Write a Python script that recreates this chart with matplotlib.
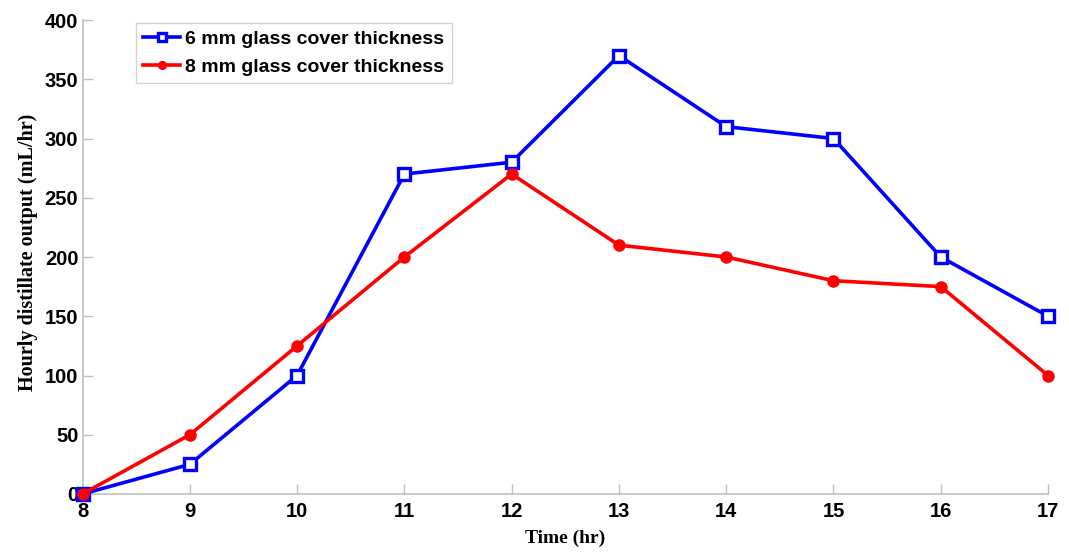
import matplotlib
matplotlib.use("Agg")
import matplotlib.pyplot as plt

time_hr = [8, 9, 10, 11, 12, 13, 14, 15, 16, 17]
glass_6mm = [0, 25, 100, 270, 280, 370, 310, 300, 200, 150]
glass_8mm = [0, 50, 125, 200, 270, 210, 200, 180, 175, 100]
label_6mm = "6 mm glass cover thickness"
label_8mm = "8 mm glass cover thickness"
xticks = list(range(8, 18))
yticks = list(range(0, 401, 50))

fig = plt.figure(figsize=(10.69, 5.53), dpi=100)
ax = fig.add_axes([0.0772, 0.1067, 0.9032, 0.8571])

ax.plot(time_hr, glass_6mm, color="#0000ff", lw=2.6, marker="s", ms=8.5,
        mfc="white", mec="#0000ff", mew=2.4, label=label_6mm, zorder=3, clip_on=False)
ax.plot(time_hr, glass_8mm, color="#ff0000", lw=2.6, marker="o", ms=8,
        mfc="#ff0000", mec="#ff0000", label=label_8mm, zorder=4, clip_on=False)

ax.set_xlim(8, 17)
ax.set_ylim(0, 400)
ax.set_xticks(xticks)
ax.set_yticks(yticks)
for s in ["top", "right"]:
    ax.spines[s].set_visible(False)
for s in ["left", "bottom"]:
    ax.spines[s].set_color("#c0c0c0")
    ax.spines[s].set_linewidth(1.2)
ax.tick_params(direction="in", length=7, width=1, color="#c0c0c0",
               labelsize=14.5)
ax.tick_params(axis="y", pad=3)
ax.tick_params(axis="x", pad=6)
for lab in ax.get_xticklabels() + ax.get_yticklabels():
    lab.set_fontfamily("Liberation Sans")
    lab.set_fontweight("bold")

ax.set_xlabel("Time (hr)", fontfamily="Liberation Serif", fontweight="bold",
              fontsize=14, labelpad=6)
ax.set_ylabel("Hourly distillate output (mL/hr)", fontfamily="Liberation Serif",
              fontweight="bold", fontsize=14.5)
ax.yaxis.set_label_coords(-0.046, 0.51)

leg = ax.legend(loc="upper left", bbox_to_anchor=(0.055, 0.994),
                borderaxespad=0,
                prop={"family": "Liberation Sans", "weight": "bold", "size": 14},
                frameon=True, fancybox=False, handlelength=1.9,
                handletextpad=0.25, borderpad=0.4, labelspacing=0.5,
                markerscale=0.7)
leg.get_frame().set_edgecolor("#c8c8c8")
leg.get_frame().set_linewidth(1.0)

fig.savefig("out.png", dpi=100)
